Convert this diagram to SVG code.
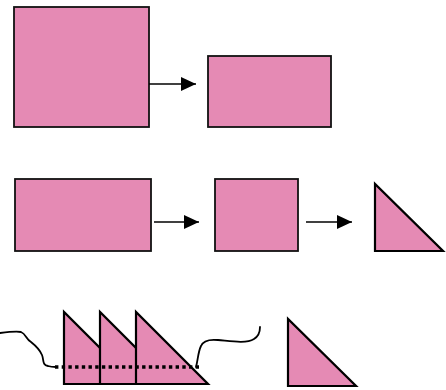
<svg xmlns="http://www.w3.org/2000/svg" width="446" height="390" viewBox="0 0 446 390">
<defs>
<style>
.s{fill:#E58AB4;stroke:#111;stroke-width:1.8;stroke-linejoin:miter}
.t{fill:#E58AB4;stroke:#000;stroke-width:2.2;stroke-linejoin:miter}
.c{fill:none;stroke:#000;stroke-width:1.6}
.w{fill:none;stroke:#000;stroke-width:1.8;stroke-linecap:round}
.d{fill:none;stroke:#000;stroke-width:3.6;stroke-dasharray:3.4 3.3}
</style>
<marker id="ah" markerWidth="15" markerHeight="14" refX="15" refY="7" orient="auto" markerUnits="userSpaceOnUse">
<path d="M0,0 L15,7 L0,14 Z" fill="#000"/>
</marker>
</defs>
<g id="n1"><rect class="s" x="14" y="7" width="135" height="120"/></g>
<g id="n2"><rect class="s" x="208" y="56" width="123" height="71"/></g>
<g id="n3"><rect class="s" x="15" y="179" width="136" height="72"/></g>
<g id="n4"><rect class="s" x="215" y="179" width="83" height="72"/></g>
<g id="n5"><path class="t" d="M375,184 L375,251 L443,251 Z"/></g>
<g id="n6"><path class="t" d="M64,312 L64,384 L136,384 Z"/></g>
<g id="n7"><path class="t" d="M100,312 L100,384 L172,384 Z"/></g>
<g id="n8"><path class="t" d="M136,312 L136,384 L208,384 Z"/></g>
<g id="n9"><path class="t" d="M288,319 L288,386 L356,386 Z"/></g>
<g id="connectors">
<line class="c" x1="149" y1="84" x2="196" y2="84" marker-end="url(#ah)"/>
<line class="c" x1="154" y1="222" x2="199" y2="222" marker-end="url(#ah)"/>
<line class="c" x1="306" y1="222" x2="352" y2="222" marker-end="url(#ah)"/>
<path class="w" d="M0,333 C8,332 16,331 21,332 C26,334 26,339 31,342 C36,346 40,350 42,355 C44,360 42,365 48,366 C51,367 53,367 56,367"/>
<path class="w" d="M196,367 C198,360 198,352 201,346 C203,341 208,339 218,340 C230,341 246,344 254,339 C259,336 260,331 260,327"/>
<line class="d" x1="55" y1="367" x2="199" y2="367"/>
</g>
</svg>
